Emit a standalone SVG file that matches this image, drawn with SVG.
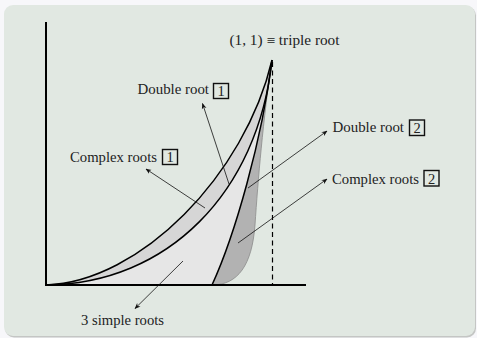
<svg xmlns="http://www.w3.org/2000/svg" width="477" height="338" viewBox="0 0 477 338">
<defs>
<marker id="ah" viewBox="0 0 10 10" refX="9" refY="5" markerWidth="6" markerHeight="6" markerUnits="userSpaceOnUse" orient="auto">
<path d="M0,1 L10,5 L0,9 L3,5 Z" fill="#111"/>
</marker>
<style>
.lbl{font-family:"Liberation Serif","DejaVu Serif",serif;font-size:14.5px;fill:#222}
.box{fill:none;stroke:#111;stroke-width:1.4}
.curve{fill:none;stroke:#000;stroke-width:1.5}
.arr{fill:none;stroke:#111;stroke-width:0.8;marker-end:url(#ah)}
.axis{fill:none;stroke:#000;stroke-width:2}
</style>
</defs>
<rect x="0" y="0" width="477" height="338" fill="#f7f7fa"/>
<rect x="5" y="6.5" width="471" height="331" rx="9" fill="#c4c6c4"/>
<rect x="4" y="5" width="471" height="331" rx="9" fill="#e1e8e2"/>

<g id="regions">
<path d="M46,285 C140,282 245,175 272,60 C258,192 168,284 46,285 Z" fill="#d6d6d6"/>
<path d="M46,285 C168,284 258,192 272,60 C262,140 235,235 212,285 Z" fill="#e6e6e6"/>
<path d="M212,285 C235,235 262,140 272,60 C263,120 258,180 255,225 C252,265 238,285 212,285 Z" fill="#b2b2b2"/>
<path d="M212,285 C238,285 252,265 255,225 C258,180 263,120 272,60" fill="none" stroke="#8a8a8a" stroke-width="0.8"/>
</g>

<g id="axes">
<line class="axis" x1="46" y1="285" x2="46" y2="22"/>
<line class="axis" x1="45" y1="285" x2="306" y2="285"/>
<line x1="272.5" y1="62" x2="272.5" y2="285" stroke="#000" stroke-width="1.2" stroke-dasharray="5,3.5"/>
</g>

<g id="curves">
<path class="curve" d="M46,285 C140,282 245,175 272,60"/>
<path class="curve" d="M46,285 C168,284 258,192 272,60"/>
<path class="curve" d="M212,285 C235,235 262,140 272,60"/>
</g>

<g id="connectors">
<line class="arr" x1="205" y1="208" x2="146" y2="169"/>
<line class="arr" x1="229" y1="184" x2="202.5" y2="103.5"/>
<line class="arr" x1="248" y1="188" x2="327" y2="131"/>
<line class="arr" x1="238" y1="243" x2="327" y2="179"/>
<line class="arr" x1="183" y1="261" x2="135" y2="308.5"/>
</g>

<g id="triple">
<text class="lbl" x="229.5" y="45" textLength="110" lengthAdjust="spacingAndGlyphs">(1, 1) ≡ triple root</text>
</g>
<g id="double1">
<text class="lbl" x="137.5" y="94" textLength="71.5" lengthAdjust="spacingAndGlyphs">Double root</text>
<rect class="box" x="213.5" y="83.5" width="15" height="15"/>
<text class="lbl" x="221" y="96" text-anchor="middle">1</text>
</g>
<g id="complex1">
<text class="lbl" x="70" y="162" textLength="87" lengthAdjust="spacingAndGlyphs">Complex roots</text>
<rect class="box" x="162.5" y="149.5" width="15" height="15"/>
<text class="lbl" x="170" y="162" text-anchor="middle">1</text>
</g>
<g id="double2">
<text class="lbl" x="332.5" y="132" textLength="71.5" lengthAdjust="spacingAndGlyphs">Double root</text>
<rect class="box" x="409.5" y="120" width="15" height="15.5"/>
<text class="lbl" x="417" y="132.5" text-anchor="middle">2</text>
</g>
<g id="complex2">
<text class="lbl" x="332" y="183.5" textLength="87" lengthAdjust="spacingAndGlyphs">Complex roots</text>
<rect class="box" x="424" y="170.5" width="15" height="15.5"/>
<text class="lbl" x="431.5" y="183.5" text-anchor="middle">2</text>
</g>
<g id="simple3">
<text class="lbl" x="81" y="325" textLength="83" lengthAdjust="spacingAndGlyphs">3 simple roots</text>
</g>
</svg>
